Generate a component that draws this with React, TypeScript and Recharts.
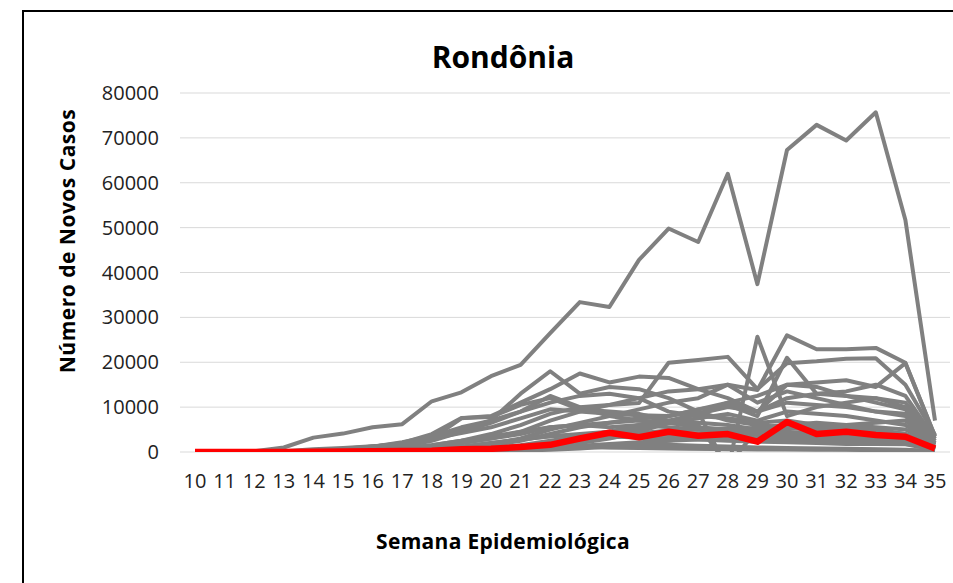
import { LineChart, Line, XAxis, YAxis, CartesianGrid } from 'recharts';

const semanas = [10, 11, 12, 13, 14, 15, 16, 17, 18, 19, 20, 21, 22, 23, 24, 25, 26, 27, 28, 29, 30, 31, 32, 33, 34, 35];
const yTicks = [0, 10000, 20000, 30000, 40000, 50000, 60000, 70000, 80000];

// destaque
const rondonia = [0, 0, 5, 20, 50, 100, 150, 200, 300, 600, 700, 1100, 1600, 3000, 4300, 3300, 4500, 3600, 4000, 2300, 6700, 4000, 4500, 3800, 3400, 800];

// demais estados (cinza)
const sp = [0, 10, 150, 1000, 3200, 4100, 5500, 6200, 11300, 13300, 16900, 19400, 26500, 33400, 32300, 42800, 49800, 46800, 62000, 37400, 67300, 72900, 69400, 75700, 51700, 7000];
const mg = [0, 0, 10, 50, 150, 300, 500, 700, 1200, 2000, 3000, 4500, 7000, 9000, 10500, 12000, 13500, 14000, 15000, 13800, 26000, 22900, 22900, 23200, 19900, 3500];
const ba = [0, 0, 5, 30, 100, 250, 500, 900, 1500, 2500, 4000, 6000, 8500, 10000, 10500, 10900, 19900, 20500, 21200, 14000, 19800, 20200, 20800, 20900, 15000, 3800];
const rj = [0, 0, 20, 150, 600, 900, 1300, 1700, 3000, 4200, 5500, 7500, 9500, 9000, 8500, 8200, 8000, 9500, 10500, 8000, 21000, 13000, 12500, 12000, 11000, 3000];
const rs = [0, 0, 5, 20, 50, 100, 200, 300, 500, 900, 1500, 2500, 4000, 5500, 6500, 7500, 8000, 9000, -4000, 25700, 8000, 10000, 11000, 12000, 10000, 2500];
const ce = [0, 0, 10, 100, 400, 700, 1200, 1800, 3000, 5000, 7000, 13000, 18000, 13000, 14500, 14000, 12000, 9000, 7000, 6000, 5500, 5000, 4500, 4000, 3500, 800];
const pa = [0, 0, 5, 30, 150, 400, 800, 1500, 3000, 7500, 8000, 11000, 14000, 17500, 15500, 16800, 16500, 14000, 12000, 9000, 11000, 10500, 10000, 9000, 8000, 2000];
const am = [0, 0, 5, 50, 200, 500, 1200, 2000, 4000, 7600, 7800, 10500, 12000, 9500, 9000, 8500, 7000, 6500, 6000, 5000, 5500, 6000, 5000, 4500, 4000, 1000];
const pe = [0, 0, 20, 80, 300, 600, 1200, 2200, 3500, 5500, 7000, 9000, 11000, 12500, 13000, 12000, 9000, 8000, 7500, 6500, 7000, 6000, 5500, 5000, 4000, 1000];
const ma = [0, 0, 5, 20, 100, 300, 700, 1200, 2500, 4500, 6500, 9000, 12500, 10000, 8000, 7000, 6500, 5500, 5000, 4500, 4500, 4000, 3500, 3500, 3000, 700];
const go = [0, 0, 5, 20, 50, 100, 150, 250, 400, 600, 900, 1500, 2500, 3500, 4500, 6000, 8000, 9500, 11000, 12500, 15000, 15500, 16000, 14500, 19800, 3500];
const pr = [0, 0, 5, 20, 40, 70, 100, 150, 200, 300, 500, 800, 1200, 2000, 3000, 4500, 6500, 8500, 10000, 9000, 12000, 13000, 13500, 15000, 12500, 3000];
const sc = [0, 0, 5, 20, 100, 200, 250, 300, 350, 450, 600, 900, 1500, 2500, 4000, 5500, 7000, 8500, 11000, 9000, 15000, 14500, 12500, 11000, 9500, 2500];
const df = [0, 0, 20, 100, 200, 250, 350, 400, 600, 1000, 1800, 3000, 5000, 6500, 8000, 9500, 11000, 12000, 15000, 11000, 13500, 12000, 10500, 9000, 8500, 2000];
const es = [0, 0, 5, 20, 60, 200, 400, 800, 1500, 2500, 3500, 4500, 5500, 6000, 6500, 7000, 6500, 6000, -3000, 5000, 5500, 5500, 6000, 6500, 7000, 1800];
const pb = [0, 0, 5, 10, 30, 100, 250, 500, 1000, 2000, 3000, 4000, 5500, 6000, 5500, 6000, 5500, 5000, 4500, 4000, 4000, 3800, 3500, 3200, 3000, 800];
const rn = [0, 0, 5, 10, 30, 80, 200, 400, 700, 1200, 2000, 2800, 3500, 4000, 4500, 4000, 3800, 3500, 3200, 3000, 2800, 2500, 2500, 2300, 2000, 600];
const al = [0, 0, 0, 5, 20, 50, 150, 300, 600, 1200, 2000, 2800, 3500, 3800, 3500, 3200, 3000, 2800, 2500, 2300, 2200, 2000, 1800, 1800, 1700, 500];
const mt = [0, 0, 0, 5, 10, 20, 50, 100, 200, 300, 500, 900, 1500, 2500, 3500, 5000, 6500, 7500, 8500, 7000, 9000, 8500, 8000, 7000, 6000, 1500];
const pi = [0, 0, 0, 5, 10, 30, 80, 150, 300, 500, 900, 1400, 2000, 2800, 3500, 4200, 4800, 5000, 5200, 5000, 5300, 5000, 4800, 4500, 4000, 1000];
const se = [0, 0, 0, 5, 10, 20, 50, 100, 200, 350, 600, 1000, 1800, 2500, 3200, 3800, 4000, 4200, 4000, 3800, 3500, 3200, 3000, 2800, 2500, 700];
const ms = [0, 0, 0, 5, 10, 20, 40, 60, 100, 150, 200, 300, 500, 800, 1200, 1800, 2500, 3500, 4500, 5500, 6000, 6500, 6000, 5500, 5000, 1500];
const to = [0, 0, 0, 0, 5, 10, 20, 50, 100, 200, 400, 700, 1000, 1400, 1800, 2200, 2500, 2800, 3000, 2800, 3000, 2900, 2800, 2500, 2200, 500];
const ac = [0, 0, 0, 5, 10, 20, 50, 100, 200, 350, 500, 700, 900, 1000, 1100, 1000, 900, 800, 700, 600, 650, 700, 600, 500, 450, 150];
const ap = [0, 0, 0, 0, 5, 20, 60, 150, 300, 500, 800, 1000, 1100, 1200, 1000, 900, 800, 700, 600, 600, 550, 500, 500, 400, 350, 100];
const rr = [0, 0, 0, 0, 5, 10, 20, 50, 100, 200, 400, 600, 800, 1000, 1300, 1500, 1600, 1400, 1200, 1000, 900, 800, 700, 600, 500, 150];

const outros: [string, number[]][] = [
  ['SP', sp], ['MG', mg], ['BA', ba], ['RJ', rj], ['RS', rs], ['CE', ce], ['PA', pa],
  ['AM', am], ['PE', pe], ['MA', ma], ['GO', go], ['PR', pr], ['SC', sc], ['DF', df],
  ['ES', es], ['PB', pb], ['RN', rn], ['AL', al], ['MT', mt], ['PI', pi], ['SE', se],
  ['MS', ms], ['TO', to], ['AC', ac], ['AP', ap], ['RR', rr],
];

const data = semanas.map((semana, i) => {
  const row: Record<string, number> = { semana, RO: rondonia[i] };
  outros.forEach(([uf, valores]) => { row[uf] = valores[i]; });
  return row;
});

const font = "'Open Sans', sans-serif";

export default function App() {
  return (
    <div style={{ position: 'absolute', left: 0, top: 0, width: 953, height: 583, overflow: 'hidden', background: '#fff', fontFamily: font }}>
      <div style={{ position: 'absolute', left: 22, top: 10, width: 2, height: 573, background: '#000' }} />
      <div style={{ position: 'absolute', left: 22, top: 10, width: 931, height: 2, background: '#000' }} />
      <div style={{ position: 'absolute', left: 0, top: 0 }}>
        <LineChart width={953} height={583} data={data} margin={{ top: 93, right: 3, bottom: 91, left: 0 }}>
          <CartesianGrid vertical={false} stroke="#d9d9d9" strokeWidth={1} />
          <XAxis
            dataKey="semana"
            interval={0}
            tickLine={false}
            axisLine={false}
            height={40}
            tickMargin={16}
            padding={{ left: 15, right: 15 }}
            tick={{ fontSize: 20, fill: '#222', fontFamily: font }}
          />
          <YAxis
            width={180}
            domain={[0, 80000]}
            ticks={yTicks}
            allowDataOverflow
            interval={0}
            tickLine={false}
            axisLine={false}
            tickMargin={15}
            tick={{ fontSize: 20, fill: '#222', fontFamily: font }}
          />
          {outros.map(([uf]) => (
            <Line
              key={uf}
              dataKey={uf}
              type="linear"
              stroke="#808080"
              strokeWidth={4}
              strokeLinejoin="round"
              dot={false}
              activeDot={false}
              isAnimationActive={false}
            />
          ))}
          <Line
            dataKey="RO"
            type="linear"
            stroke="#ff0000"
            strokeWidth={6.5}
            strokeLinejoin="round"
            dot={false}
            activeDot={false}
            isAnimationActive={false}
          />
        </LineChart>
      </div>
      <div style={{ position: 'absolute', left: 303, width: 400, top: 37, textAlign: 'center', fontSize: 30, fontWeight: 700, color: '#000', lineHeight: '40px' }}>
        Rondônia
      </div>
      <div style={{ position: 'absolute', left: 253, width: 500, top: 526, textAlign: 'center', fontSize: 21, fontWeight: 700, color: '#000', lineHeight: '30px', letterSpacing: 0.3 }}>
        Semana Epidemiológica
      </div>
      <div style={{ position: 'absolute', left: 67 - 200, width: 400, top: 241 - 15, textAlign: 'center', fontSize: 21, fontWeight: 700, color: '#000', lineHeight: '30px', letterSpacing: 0.5, transform: 'rotate(-90deg)' }}>
        Número de Novos Casos
      </div>
    </div>
  );
}
